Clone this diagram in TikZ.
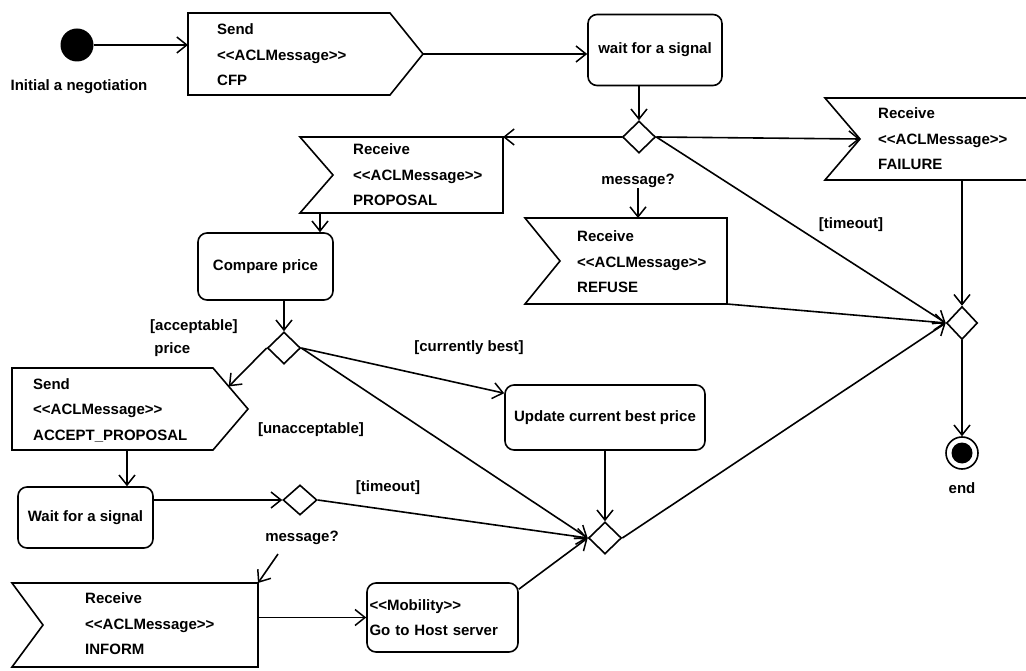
\documentclass[tikz,border=0pt]{standalone}
\usepackage{fontspec}
\newfontfamily\dfont{Liberation Sans}
\usetikzlibrary{arrows.meta,calc,shapes.geometric}
% guillemet-free stereotype brackets
\newcommand\stereo[1]{<\kern0pt<#1>\kern0pt>}
\begin{document}
\begin{tikzpicture}[x=1pt,y=1pt,
  txt/.style={font=\dfont\bfseries\fontsize{15}{25.5}\selectfont, inner sep=0pt, align=left},
  wire/.style={line width=1.6pt},
  flow/.style={wire, -{Straight Barb[length=10pt,width=16pt,line width=1.5pt]}},
  act/.style={draw, line width=1.6pt, rounded corners=9pt, inner sep=0pt, txt, align=center},
  body/.style={inner sep=0pt, outer sep=0pt},
  outline/.style={draw, line width=1.6pt, line join=miter},
  dec/.style={diamond, draw, line width=1.6pt, fill=white, inner sep=0pt, minimum width=33pt, minimum height=32pt},
]
\useasboundingbox (0,0) rectangle (1026,-671);
\fill[white] (0,0) rectangle (1026,-671);

% ---- start ----
\node[circle, fill=black, minimum size=33pt, inner sep=0pt] (init) at (77,-45) {};
\node[txt] (initlbl) at (79,-87) {Initial a negotiation};

% ---- send CFP ----
\node[body, minimum width=202pt, minimum height=82pt] (cfp) at (289,-54) {};
\coordinate (cfptip) at ($(cfp.east)+(33,0)$);
\draw[outline] (cfp.north west) -- (cfp.north east) -- (cfptip) -- (cfp.south east) -- (cfp.south west) -- cycle;
\node[txt, anchor=west] (cfptxt) at (217,-55) {Send\\\stereo{ACLMessage}\\CFP};

% ---- wait for a signal ----
\node[act, minimum width=134pt, minimum height=71pt] (wait1) at (655,-50) {wait for a signal};
\node[dec] (d1) at (639,-137) {};
\node[txt] (msg1) at (638,-181) {message?};

% ---- receive PROPOSAL ----
\node[body, minimum width=203pt, minimum height=76pt] (prop) at (401.5,-175) {};
\draw[outline] (prop.north west) -- (prop.north east) -- (prop.south east) -- (prop.south west) -- ($(prop.west)+(33,0)$) -- cycle;
\node[txt, anchor=west] (proptxt) at (353,-175) {Receive\\\stereo{ACLMessage}\\PROPOSAL};

% ---- receive REFUSE ----
\node[body, minimum width=202pt, minimum height=86pt] (refuse) at (626,-261) {};
\draw[outline] (refuse.north west) -- (refuse.north east) -- (refuse.south east) -- (refuse.south west) -- ($(refuse.west)+(35,0)$) -- cycle;
\node[txt, anchor=west] (refusetxt) at (577,-262) {Receive\\\stereo{ACLMessage}\\REFUSE};

% ---- receive FAILURE (runs past the right edge) ----
\node[body, minimum width=215pt, minimum height=82pt] (fail) at (932.5,-139) {};
\coordinate (failnotch) at ($(fail.west)+(35,0)$);
\draw[outline] (fail.north east) -- (fail.north west) -- (failnotch) -- (fail.south west) -- (fail.south east);
\node[txt, anchor=west] (failtxt) at (878,-139) {Receive\\\stereo{ACLMessage}\\FAILURE};

% ---- compare price ----
\node[act, minimum width=135pt, minimum height=67pt] (cmp) at (265.5,-266.5) {Compare price};
\node[dec] (d2) at (284,-348) {};
\node[txt, anchor=west, font=\dfont\bfseries\fontsize{15}{23}\selectfont] (acclbl) at (150,-338) {[acceptable]\\\ price};
\node[txt] (bestlbl) at (469,-348) {[currently best]};
\node[txt] (unacclbl) at (311,-430) {[unacceptable]};

% ---- send ACCEPT_PROPOSAL ----
\node[body, minimum width=201pt, minimum height=82pt] (acc) at (112.5,-409) {};
\coordinate (acctip) at ($(acc.east)+(35,0)$);
\draw[outline] (acc.north west) -- (acc.north east) -- (acctip) -- (acc.south east) -- (acc.south west) -- cycle;
\node[txt, anchor=west] (acctxt) at (33,-410) {Send\\\stereo{ACLMessage}\\ACCEPT\_PROPOSAL};
\coordinate (accin) at ($(acc.north east)!0.45!(acctip)$);
\coordinate (accout) at ($(acc.south west)+(115,0)$);

% ---- update best price ----
\node[act, minimum width=200pt, minimum height=65pt] (upd) at (605,-417.5) {Update current best price};

% ---- second wait ----
\node[act, minimum width=135pt, minimum height=61pt] (wait2) at (85.5,-517.5) {Wait for a signal};
\node[dec, minimum width=34pt, minimum height=30pt] (d4) at (300,-500) {};
\node[txt] (msg2) at (302,-538) {message?};
\node[txt] (tolbl2) at (388,-488) {[timeout]};

% ---- receive INFORM ----
\node[body, minimum width=246pt, minimum height=84pt] (inform) at (135,-625) {};
\draw[outline] (inform.north west) -- (inform.north east) -- (inform.south east) -- (inform.south west) -- ($(inform.west)+(31,0)$) -- cycle;
\node[txt, anchor=west] (informtxt) at (85,-624) {Receive\\\stereo{ACLMessage}\\INFORM};

% ---- mobility ----
\node[act, minimum width=151pt, minimum height=69pt, text width=146pt, align=left] (mob) at (442.5,-617.5) {\stereo{Mobility}\\Go to Host server};

% ---- merges and end ----
\node[dec] (d3) at (605,-538) {};
\node[dec, minimum width=31pt, minimum height=33pt] (d5) at (962,-323) {};
\node[txt] (tolbl1) at (851,-225) {[timeout]};
\node[circle, draw, line width=1.6pt, minimum size=32pt, inner sep=0pt] (end) at (962,-453) {};
\fill (end.center) circle (10.5);
\node[txt] (endlbl) at (962,-488) {end};

% ---- connectors ----
\draw[flow] (init.east) -- (init.east -| cfp.west);
\draw[flow] (cfptip) -- (cfptip -| wait1.west);
\draw[flow] (d1.north |- wait1.south) -- (d1.north);
\draw[flow] (d1.west) -- (prop.north east);
\draw[flow] (d1.east) -- (failnotch);
\draw[flow] (d1.east) -- (d5.west);
\draw[flow] (msg1.south) -- (msg1.south |- refuse.north);
\draw[flow] (refuse.south east) -- (d5.west);
\draw[flow] (d5.north |- fail.south) -- (d5.north);
\draw[flow] (d5.south) -- (end.north);

\coordinate (propout) at ($(prop.south west)+(20,0)$);
\draw[flow] (propout) -- (propout |- cmp.north);
\draw[flow] (d2.north |- cmp.south) -- (d2.north);
\draw[flow] (d2.west) -- (accin);
\draw[flow] (d2.east) -- ($(upd.north west)+(0,-9)$);
\draw[flow] (d2.east) -- (d3.west);
\draw[flow] (accout) -- (accout |- wait2.north);
\draw[flow] (d4.west -| wait2.east) -- (d4.west);
\draw[flow] (d4.east) -- (d3.west);
\coordinate (msg2out) at ($(msg2.south)+(-24,-9)$);
\draw[flow] (msg2out) -- (inform.north east);
\draw[flow] (mob.west -| inform.east) -- (mob.west);
\draw[flow] ($(mob.north east)+(0,-7)$) -- (d3.west);
\draw[flow] (upd.south) -- (d3.north);
\draw[flow] (d3.east) -- (d5.west);
\end{tikzpicture}
\end{document}
